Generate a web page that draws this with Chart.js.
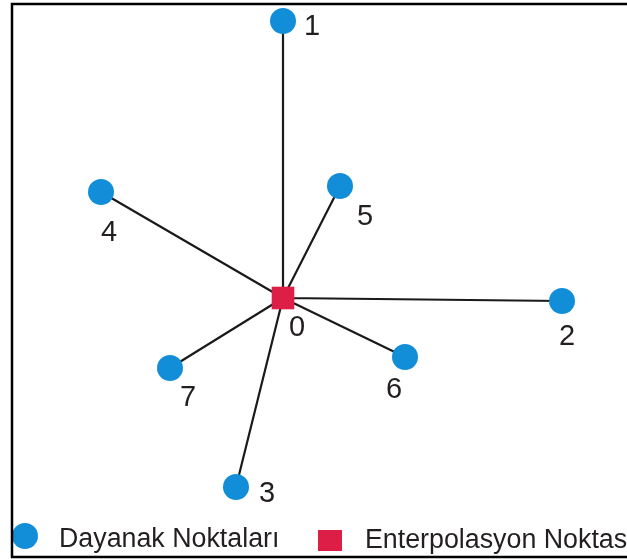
<!DOCTYPE html>
<html>
<head>
<meta charset="utf-8">
<script src="https://cdn.jsdelivr.net/npm/chart.js@4.4.1/dist/chart.umd.min.js"></script>
<style>
html,body{margin:0;padding:0;background:#fff;overflow:hidden;width:627px;height:559px;}
#wrap{position:absolute;left:0;top:0;width:660px;height:559px;}
</style>
</head>
<body>
<div id="wrap"><canvas id="c" width="660" height="559"></canvas></div>
<script>
// Support points (Dayanak Noktaları), coordinates relative to interpolation point 0
const pointLabels = ['1', '2', '3', '4', '5', '6', '7'];
const pointX = [0, 279, -47, -182, 57, 122, -113];
const pointY = [277, -3, -189, 106, 112, -59, -70];
// Interpolation point (Enterpolasyon Noktası)
const centerLabel = '0';
const centerX = [0];
const centerY = [0];
const legendLabels = ['Dayanak Noktaları', 'Enterpolasyon Noktası'];

const BLUE = '#128ed9';
const RED = '#dd1f47';
const TEXT = '#231f20';
const FONT = '"Liberation Sans", Arial, sans-serif';

const supportData = pointX.map((x, i) => ({x: x, y: pointY[i]}));
const centerData = [{x: centerX[0], y: centerY[0]}];
const starData = [];
supportData.forEach(p => { starData.push(centerData[0]); starData.push(p); starData.push({x: NaN, y: NaN}); });

// label offsets in pixels (styling)
const labelOffsets = {
  '0': [14, 29], '1': [29, 5], '2': [5, 35], '3': [31, 6],
  '4': [8, 40], '5': [25, 30], '6': [-11, 32], '7': [18, 29]
};

const decor = {
  id: 'decor',
  afterDatasetsDraw(chart) {
    const ctx = chart.ctx;
    const xs = chart.scales.x, ys = chart.scales.y;
    ctx.save();
    ctx.fillStyle = TEXT;
    ctx.font = '29px ' + FONT;
    ctx.textAlign = 'center';
    ctx.textBaseline = 'middle';
    const all = supportData.map((p, i) => [pointLabels[i], p]).concat([[centerLabel, centerData[0]]]);
    all.forEach(([lab, p]) => {
      const off = labelOffsets[lab];
      ctx.fillText(lab, xs.getPixelForValue(p.x) + off[0], ys.getPixelForValue(p.y) + off[1] + 1);
    });
    // legend
    ctx.font = '26.8px ' + FONT;
    ctx.textAlign = 'left';
    ctx.textBaseline = 'alphabetic';
    ctx.fillStyle = BLUE;
    ctx.beginPath(); ctx.arc(25, 536, 13, 0, Math.PI * 2); ctx.fill();
    ctx.fillStyle = TEXT;
    ctx.fillText(legendLabels[0], 59, 547);
    ctx.fillStyle = RED;
    ctx.fillRect(318, 530, 24, 21);
    ctx.fillStyle = TEXT;
    ctx.fillText(legendLabels[1], 365, 548);
    // frame
    ctx.strokeStyle = '#000';
    ctx.lineWidth = 2.5;
    ctx.strokeRect(12, 4, 640, 553);
    ctx.restore();
  }
};

new Chart(document.getElementById('c'), {
  type: 'scatter',
  data: {
    datasets: [
      { label: legendLabels[1], data: centerData, pointStyle: 'rect', pointRadius: 16,
        backgroundColor: RED, borderColor: RED, borderWidth: 0, order: 0 },
      { label: legendLabels[0], data: supportData, pointStyle: 'circle', pointRadius: 13,
        backgroundColor: BLUE, borderColor: BLUE, borderWidth: 0, order: 1 },
      { label: 'lines', data: starData, showLine: true, spanGaps: false, pointRadius: 0,
        borderColor: '#1a1a1a', borderWidth: 2.2, order: 2 }
    ]
  },
  options: {
    responsive: false,
    animation: false,
    devicePixelRatio: 1,
    layout: { padding: 0, autoPadding: false },
    plugins: { legend: { display: false }, tooltip: { enabled: false } },
    scales: {
      x: { type: 'linear', min: -283, max: 377, display: false },
      y: { type: 'linear', min: -261, max: 298, display: false }
    }
  },
  plugins: [decor]
});
</script>
</body>
</html>
